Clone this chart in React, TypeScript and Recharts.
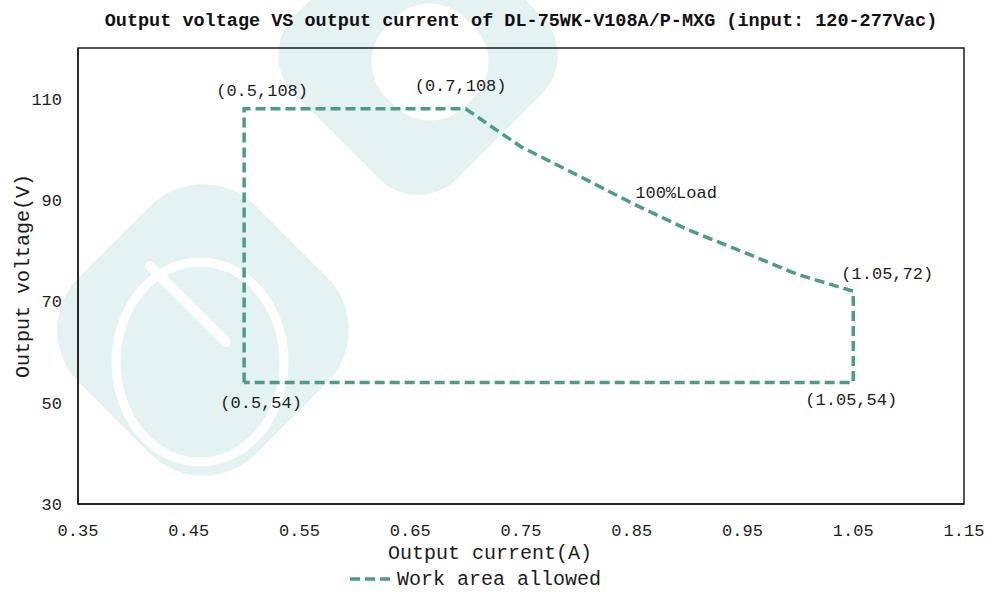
import { LineChart, Line, XAxis, YAxis, ReferenceDot, ReferenceArea } from "recharts";

// boundary of the allowed work area, walked in drawing order
const current = [0.5, 0.5, 0.7, 0.75, 0.8, 0.85, 0.9, 0.95, 1.0, 1.05, 1.05, 0.5];
const voltage = [54, 108, 108, 100.5, 95, 89.4, 84.2, 79.8, 75.3, 72, 54, 54];

const xTicks = [0.35, 0.45, 0.55, 0.65, 0.75, 0.85, 0.95, 1.05, 1.15];
const yTicks = [30, 50, 70, 90, 110];
const xDomain = [0.35, 1.15];
const yDomain = [30, 120];

// point annotations
const noteText = ["(0.5,108)", "(0.7,108)", "100%Load", "(1.05,72)", "(1.05,54)", "(0.5,54)"];
const noteX = [0.5, 0.7, 0.89, 1.05, 1.05, 0.5];
const noteY = [108, 108, 91.3, 72, 54, 54];

// label nudges in px (dx, dy) relative to the anchor point
const noteOffset = [
  [18, -17],
  [-5, -22],
  [0, 0],
  [34, -17],
  [-2, 18],
  [17, 21],
];

const data = current.map((c, i) => ({ current: c, voltage: voltage[i] }));

const LINE = "#4c9d85";
const INK = "#1c1c1c";
const MONO = "'Liberation Mono', 'DejaVu Sans Mono', monospace";
const WM = "#e4f2f2";

function Watermark() {
  return (
    <svg width={989} height={594} style={{ position: "absolute", left: 0, top: 0 }}>
      {/* top mark */}
      <rect x={303} y={-60} width={230} height={230} rx={55} fill={WM} transform="rotate(45 418 55)" />
      <rect x={374} y={6} width={112} height={112} rx={50} fill="#fff" transform="rotate(45 430 62)" />
      {/* lower-left mark */}
      <rect x={78} y={205} width={250} height={250} rx={75} fill={WM} transform="rotate(45 203 330)" />
      <ellipse cx={200} cy={362} rx={84} ry={100} fill="none" stroke="#fff" strokeWidth={9} />
      <line x1={150} y1={266} x2={226} y2={342} stroke="#fff" strokeWidth={10} strokeLinecap="round" />
    </svg>
  );
}

export default function App() {
  return (
    <div style={{ position: "absolute", left: 0, top: 0, width: 989, height: 594, background: "#fff" }}>
      <Watermark />
      <div style={{ position: "absolute", left: 0, top: 0 }}>
        <LineChart width={989} height={594} data={data} margin={{ top: 48, right: 25, bottom: 60, left: 0 }}>
          <XAxis
            type="number"
            dataKey="current"
            domain={xDomain}
            ticks={xTicks}
            tickFormatter={(v) => v.toFixed(2)}
            tickLine={false}
            tickMargin={14}
            height={30}
            axisLine={{ stroke: INK, strokeWidth: 1.5 }}
            tick={{ fill: INK, fontSize: 17, fontFamily: MONO }}
            interval={0}
          />
          <YAxis
            type="number"
            domain={yDomain}
            ticks={yTicks}
            tickLine={false}
            tickMargin={10}
            width={78}
            axisLine={{ stroke: INK, strokeWidth: 1.5 }}
            tick={{ fill: INK, fontSize: 17, fontFamily: MONO }}
            interval={0}
          />
          {/* plot frame */}
          <ReferenceArea
            x1={xDomain[0]}
            x2={xDomain[1]}
            y1={yDomain[0]}
            y2={yDomain[1]}
            fill="none"
            fillOpacity={0}
            stroke={INK}
            strokeWidth={1.5}
          />
          <Line
            type="linear"
            dataKey="voltage"
            stroke={LINE}
            strokeWidth={3.5}
            strokeDasharray="10 5"
            strokeLinejoin="miter"
            dot={false}
            activeDot={false}
            isAnimationActive={false}
          />
          {noteText.map((t, i) => (
            <ReferenceDot
              key={t}
              x={noteX[i]}
              y={noteY[i]}
              r={1}
              fill="none"
              stroke="none"
              label={(p: any) => (
                <text
                  x={p.viewBox.x + p.viewBox.width / 2 + noteOffset[i][0]}
                  y={p.viewBox.y + p.viewBox.height / 2 + noteOffset[i][1]}
                  textAnchor="middle"
                  dominantBaseline="central"
                  fill={INK}
                  fontSize={17}
                  fontFamily={MONO}
                >
                  {t}
                </text>
              )}
            />
          ))}
        </LineChart>
      </div>

      {/* title, axis titles and legend */}
      <svg width={989} height={594} style={{ position: "absolute", left: 0, top: 0, pointerEvents: "none" }}>
        <text x={521} y={21} textAnchor="middle" dominantBaseline="central" fontSize={18.5} fontWeight="bold" fontFamily={MONO} fill="#111">
          Output voltage VS output current of DL-75WK-V108A/P-MXG (input: 120-277Vac)
        </text>
        <text
          x={23}
          y={276}
          textAnchor="middle"
          dominantBaseline="central"
          fontSize={20}
          fontFamily={MONO}
          fill={INK}
          transform="rotate(-90 23 276)"
        >
          Output voltage(V)
        </text>
        <text x={490} y={553} textAnchor="middle" dominantBaseline="central" fontSize={20} fontFamily={MONO} fill={INK}>
          Output current(A)
        </text>
        <line x1={350} y1={579} x2={394} y2={579} stroke={LINE} strokeWidth={3.5} strokeDasharray="10 5" />
        <text x={397} y={579} dominantBaseline="central" fontSize={20} fontFamily={MONO} fill={INK}>
          Work area allowed
        </text>
      </svg>
    </div>
  );
}
